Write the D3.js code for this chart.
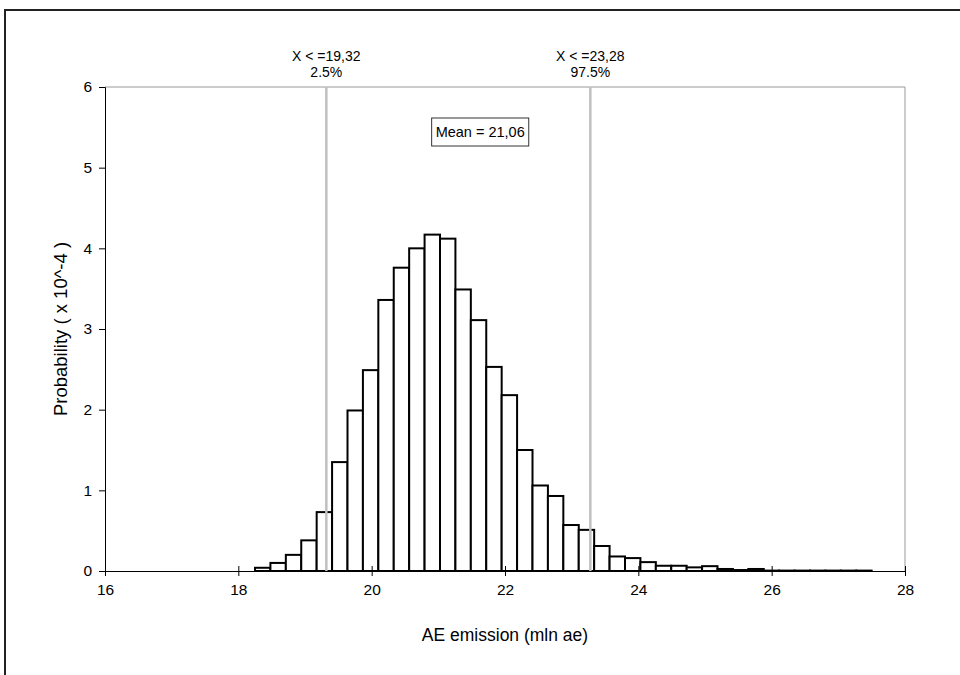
<!DOCTYPE html>
<html>
<head>
<meta charset="utf-8">
<script src="https://cdn.jsdelivr.net/npm/d3@7"></script>
<style>
  body { margin: 0; background: #fff; }
  text { font-family: "Liberation Sans", Arial, sans-serif; fill: #000; }
</style>
</head>
<body>
<div id="chart-area"></div>
<script>
// HISTOGRAM - AE EMISSION

const MARGINS = { TOP: 87, BOTTOM: 104, LEFT: 105, RIGHT: 55 }
const WIDTH = 960 - MARGINS.LEFT - MARGINS.RIGHT
const HEIGHT = 675 - MARGINS.TOP - MARGINS.BOTTOM

// data
const binStart = 18.25
const binWidth = 0.23125
const probs = [0.04, 0.10, 0.20, 0.38, 0.73, 1.35, 1.99, 2.49, 3.36, 3.76, 4.00, 4.17,
    4.12, 3.49, 3.11, 2.53, 2.18, 1.50, 1.06, 0.93, 0.57, 0.51, 0.31, 0.18,
    0.16, 0.11, 0.065, 0.065, 0.045, 0.06, 0.025, 0.012,
    0.025, 0.005, 0.005, 0.005, 0.005, 0.005, 0.005, 0.005]
const xTicks = [16, 18, 20, 22, 24, 26, 28]
const yTicks = [0, 1, 2, 3, 4, 5, 6]
const markers = [
    { x: 19.32, label: "X < =19,32", pct: "2.5%" },
    { x: 23.28, label: "X < =23,28", pct: "97.5%" }
]
const meanLabel = "Mean = 21,06"

const bins = probs.map((p, i) => ({
    x0: binStart + i * binWidth,
    x1: binStart + (i + 1) * binWidth,
    p: p
}))

const svg = d3.select("#chart-area").append("svg")
    .attr("width", 960)
    .attr("height", 675)

// outer frame
svg.append("rect")
    .attr("x", 5)
    .attr("y", 10)
    .attr("width", 970)
    .attr("height", 700)
    .attr("fill", "none")
    .attr("stroke", "#222")
    .attr("stroke-width", 2)

const g = svg.append("g")
    .attr("transform", `translate(${MARGINS.LEFT}, ${MARGINS.TOP})`)

const x = d3.scaleLinear()
    .domain([16, 28])
    .range([0, WIDTH])

const y = d3.scaleLinear()
    .domain([0, 6])
    .range([HEIGHT, 0])

// plot border (top + right, grey)
g.append("path")
    .attr("d", `M0,0H${WIDTH}V${HEIGHT}`)
    .attr("fill", "none")
    .attr("stroke", "#999")
    .attr("stroke-width", 1)

// bars
g.selectAll("rect.bar")
    .data(bins)
    .enter().append("rect")
    .attr("class", "bar")
    .attr("x", d => x(d.x0))
    .attr("y", d => y(d.p))
    .attr("width", d => x(d.x1) - x(d.x0))
    .attr("height", d => HEIGHT - y(d.p))
    .attr("fill", "#fff")
    .attr("stroke", "#000")
    .attr("stroke-width", 2)

// percentile lines
g.selectAll("line.marker")
    .data(markers)
    .enter().append("line")
    .attr("class", "marker")
    .attr("x1", d => x(d.x))
    .attr("x2", d => x(d.x))
    .attr("y1", 0)
    .attr("y2", HEIGHT)
    .attr("stroke", "#c0c0c0")
    .attr("stroke-width", 2.5)

g.selectAll("text.marker-label")
    .data(markers)
    .enter().append("text")
    .attr("class", "marker-label")
    .attr("x", d => x(d.x))
    .attr("y", -26)
    .attr("text-anchor", "middle")
    .attr("font-size", "14px")
    .text(d => d.label)

g.selectAll("text.marker-pct")
    .data(markers)
    .enter().append("text")
    .attr("class", "marker-pct")
    .attr("x", d => x(d.x))
    .attr("y", -10)
    .attr("text-anchor", "middle")
    .attr("font-size", "14px")
    .text(d => d.pct)

// mean box
const meanG = g.append("g")
    .attr("transform", `translate(${WIDTH * 0.469}, 45)`)

const meanText = meanG.append("text")
    .attr("x", 0)
    .attr("y", 0)
    .attr("text-anchor", "middle")
    .attr("dominant-baseline", "central")
    .attr("font-size", "14.5px")
    .text(meanLabel)

const bb = meanText.node().getBBox()
meanG.insert("rect", "text")
    .attr("x", bb.x - 4)
    .attr("y", -14)
    .attr("width", bb.width + 8)
    .attr("height", 28)
    .attr("fill", "#fff")
    .attr("stroke", "#333")
    .attr("stroke-width", 1)

// axes
const yAxis = d3.axisLeft(y)
    .tickValues(yTicks)
    .tickFormat(d3.format("d"))
    .tickSize(6)
    .tickPadding(7)
g.append("g")
    .attr("class", "y-axis")
    .call(yAxis)
    .call(a => a.selectAll("text").attr("font-size", "15.5px").attr("font-family", "Liberation Sans, Arial"))

const xAxis = d3.axisBottom(x)
    .tickValues(xTicks)
    .tickFormat(d3.format("d"))
    .tickSize(5)
    .tickPadding(8)
g.append("g")
    .attr("class", "x-axis")
    .attr("transform", `translate(0, ${HEIGHT})`)
    .call(xAxis)
    .call(a => a.selectAll(".tick line").attr("y1", -5))
    .call(a => a.selectAll("text").attr("font-size", "15.5px").attr("font-family", "Liberation Sans, Arial"))

// axis titles
svg.append("text")
    .attr("x", MARGINS.LEFT + WIDTH / 2)
    .attr("y", 641)
    .attr("text-anchor", "middle")
    .attr("font-size", "17.5px")
    .text("AE emission (mln ae)")

svg.append("text")
    .attr("transform", `translate(67, ${MARGINS.TOP + HEIGHT / 2}) rotate(-90)`)
    .attr("text-anchor", "middle")
    .attr("font-size", "18.5px")
    .text("Probability ( x 10^-4 )")
</script>
</body>
</html>
